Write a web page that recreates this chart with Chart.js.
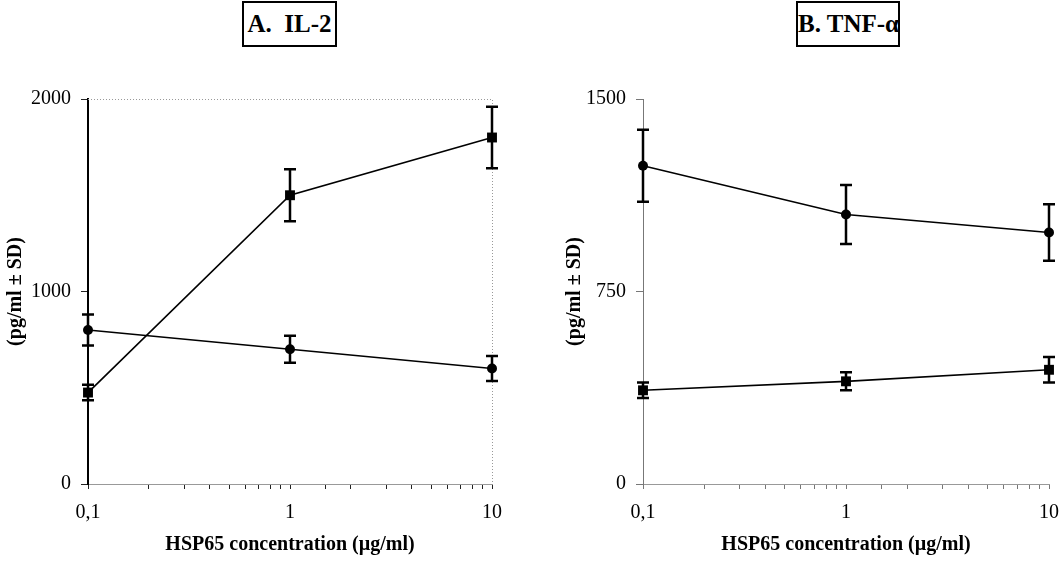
<!DOCTYPE html>
<html>
<head>
<meta charset="utf-8">
<script src="https://cdn.jsdelivr.net/npm/chart.js"></script>
<style>
  body { margin: 0; background: #fff; width: 1059px; height: 562px; position: relative; overflow: hidden; }
  canvas { position: absolute; top: 0; }
  .panel-title {
    position: absolute; top: 1px; height: 42px; border: 2px solid #000;
    font: bold 25px "Liberation Serif", "Times New Roman", serif; line-height: 42px;
    text-align: center; box-sizing: content-box; white-space: pre;
  }
</style>
</head>
<body>
<div class="panel-title" style="left:242px; width:91px;">A.  IL-2</div>
<div class="panel-title" style="left:796px; width:100px;">B. TNF-α</div>
<canvas id="chartA" width="529" height="562" style="left:0px"></canvas>
<canvas id="chartB" width="504" height="562" style="left:555px"></canvas>
<script>
// doses on the log axis
const doses = [0.1, 1, 10];

// A. IL-2
const il2Squares = [475, 1500, 1800];
const il2SquaresSD = [40, 135, 160];
const il2Circles = [800, 700, 600];
const il2CirclesSD = [80, 70, 65];

// B. TNF-alpha
const tnfCircles = [1240, 1050, 980];
const tnfCirclesSD = [140, 115, 110];
const tnfSquares = [365, 400, 445];
const tnfSquaresSD = [30, 35, 50];

const yMaxA = 2000, yStepA = 1000;
const yMaxB = 1500, yStepB = 750;
const xTickLabels = { '-1': '0,1', '0': '1', '1': '10' };

const serif = '"Liberation Serif", "Times New Roman", serif';

function pts(vals) {
  return doses.map((d, i) => ({ x: d, y: vals[i] }));
}

// vertical error bars with caps, from dataset.sd
const errorBars = {
  id: 'errorBars',
  afterDatasetsDraw(chart) {
    const ctx = chart.ctx;
    const yScale = chart.scales.y;
    ctx.save();
    ctx.strokeStyle = '#000';
    ctx.lineWidth = 2.5;
    chart.data.datasets.forEach((ds, i) => {
      const meta = chart.getDatasetMeta(i);
      meta.data.forEach((el, j) => {
        const v = ds.data[j].y, sd = ds.sd[j];
        const top = yScale.getPixelForValue(v + sd);
        const bot = yScale.getPixelForValue(v - sd);
        ctx.beginPath();
        ctx.moveTo(el.x, top); ctx.lineTo(el.x, bot);
        ctx.moveTo(el.x - 6, top); ctx.lineTo(el.x + 6, top);
        ctx.moveTo(el.x - 6, bot); ctx.lineTo(el.x + 6, bot);
        ctx.stroke();
      });
    });
    ctx.restore();
  }
};

// dotted top/right frame for panel A
const dottedFrame = {
  id: 'dottedFrame',
  beforeDatasetsDraw(chart) {
    const a = chart.chartArea, ctx = chart.ctx;
    ctx.save();
    ctx.strokeStyle = '#999';
    ctx.lineWidth = 1;
    ctx.setLineDash([1, 2]);
    ctx.beginPath();
    ctx.moveTo(a.left, a.top + 0.5); ctx.lineTo(a.right + 0.5, a.top + 0.5);
    ctx.lineTo(a.right + 0.5, a.bottom);
    ctx.stroke();
    ctx.restore();
  }
};

function makeChart(id, sets, yMax, yStep, axisColor, axisWidth, tickColor, xBorder, padRight, titlePad, extra) {
  return new Chart(document.getElementById(id), {
    type: 'line',
    data: {
      datasets: sets.map(s => ({
        data: pts(s.vals),
        sd: s.sd,
        borderColor: '#000',
        backgroundColor: '#000',
        borderWidth: 1.6,
        pointStyle: s.style,
        pointRadius: s.style === 'rect' ? 7 : 5,
        pointBackgroundColor: '#000',
        pointBorderWidth: 0,
        tension: 0,
        clip: false
      }))
    },
    options: {
      responsive: false,
      animation: false,
      layout: { padding: { left: 0, top: 99, right: padRight, bottom: 0 } },
      plugins: { legend: { display: false }, tooltip: { enabled: false } },
      scales: {
        x: {
          type: 'logarithmic',
          min: 0.1,
          max: 10,
          afterFit: s => { s.height = 78; s.paddingRight = 0; s.paddingLeft = 0; },
          border: xBorder,
          grid: { drawOnChartArea: false, drawTicks: true, tickLength: 5, tickColor: tickColor, lineWidth: 1 },
          ticks: {
            autoSkip: false,
            maxRotation: 0,
            padding: 12,
            color: '#000',
            font: { family: serif, size: 20 },
            callback: v => {
              const l = Math.log10(v);
              const r = Math.round(l);
              return Math.abs(l - r) < 1e-6 ? xTickLabels[String(r)] : '';
            }
          },
          title: {
            display: true,
            text: 'HSP65 concentration (µg/ml)',
            color: '#000',
            font: { family: serif, size: 20, weight: 'bold' },
            padding: { top: 4, bottom: 5 }
          }
        },
        y: {
          min: 0,
          max: yMax,
          afterFit: s => { s.width = 88; },
          border: { color: axisColor, width: axisWidth },
          grid: { drawOnChartArea: false, tickLength: 7, tickColor: tickColor },
          ticks: {
            stepSize: yStep,
            padding: 10,
            color: '#000',
            font: { family: serif, size: 20 },
            callback: v => String(v)
          },
          title: {
            display: true,
            text: '(pg/ml ± SD)',
            color: '#000',
            font: { family: serif, size: 20, weight: 'bold' },
            padding: { top: titlePad, bottom: 4 }
          }
        }
      }
    },
    plugins: [errorBars].concat(extra)
  });
}

makeChart('chartA', [
  { vals: il2Squares, sd: il2SquaresSD, style: 'rect' },
  { vals: il2Circles, sd: il2CirclesSD, style: 'circle' }
], yMaxA, yStepA, '#000', 2, '#222', { color: '#999', dash: [1, 2], width: 1 }, 37, 4, [dottedFrame]);

makeChart('chartB', [
  { vals: tnfCircles, sd: tnfCirclesSD, style: 'circle' },
  { vals: tnfSquares, sd: tnfSquaresSD, style: 'rect' }
], yMaxB, yStepB, '#777', 1, '#777', { color: '#999', width: 1 }, 10, 8, []);
</script>
</body>
</html>
